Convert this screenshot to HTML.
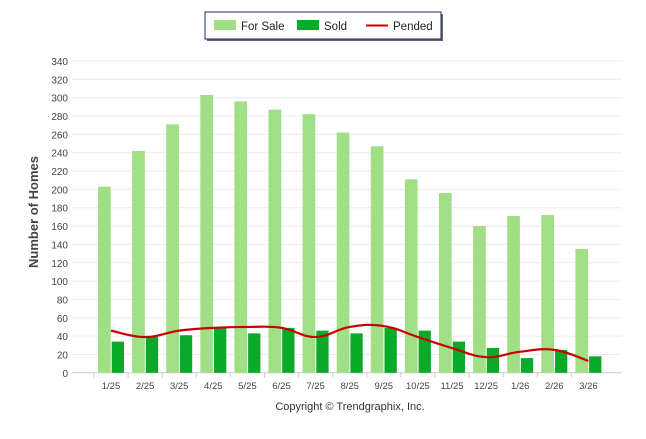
<!DOCTYPE html>
<html><head><meta charset="utf-8"><style>
body{margin:0;background:#fff;font-family:"Liberation Sans",sans-serif}
#wrap{position:relative;width:646px;height:434px}
</style></head><body>
<div id="wrap">
<svg id="svg" width="646" height="434" xmlns="http://www.w3.org/2000/svg"></svg>
</div>
<script>
const categories=["1/25","2/25","3/25","4/25","5/25","6/25","7/25","8/25","9/25","10/25","11/25","12/25","1/26","2/26","3/26"];
const forSale=[203,242,271,303,296,287,282,262,247,211,196,160,171,172,135];
const sold=[34,39,41,50,43,49,46,43,49,46,34,27,16,25,18];
const pended=[46,39,46,49,50,49,39,50,51,39,27,17,23,25,13];
const yTicks=[0,20,40,60,80,100,120,140,160,180,200,220,240,260,280,300,320,340];
const NS="http://www.w3.org/2000/svg";
const svg=document.getElementById('svg');
const y0=372.8, k=0.917, x0=72, step=34.1, xFirst=111;
const yS=v=>y0-v*k;
const xC=i=>xFirst+i*step;
function mk(t,a,p){const e=document.createElementNS(NS,t);for(const n in a)e.setAttribute(n,a[n]);(p||svg).appendChild(e);return e;}
yTicks.forEach(v=>{
 const g=mk('line',{x1:x0,x2:622,y1:yS(v),y2:yS(v),stroke:v===0?'#ccc':'#ebebeb','stroke-width':1});
 
 
 const t=mk('text',{x:68,y:yS(v)+4,'text-anchor':'end','font-size':10,fill:'#444'});
 t.textContent=v;
 
 
});
categories.forEach((c,i)=>{
 const a=mk('rect',{x:xC(i)-13,y:yS(forSale[i]),width:12.7,height:forSale[i]*k,fill:'#a0df86'});
 
 
 const b=mk('rect',{x:xC(i)+0.7,y:yS(sold[i]),width:12.3,height:sold[i]*k,fill:'#0aaa28'});
 
 
 const tk=mk('line',{x1:xC(i)-17,x2:xC(i)-17,y1:y0,y2:y0+5,stroke:'#ccc'});
 
 
 const t=mk('text',{x:xC(i),y:389,'text-anchor':'middle','font-size':9.5,fill:'#444'});
 t.textContent=c;
 
 
});
let pts=pended.map((v,i)=>[xC(i),yS(v)]);
let d='M'+pts[0][0]+','+pts[0][1];
for(let i=0;i<pts.length-1;i++){
 const p0=pts[Math.max(0,i-1)],p1=pts[i],p2=pts[i+1],p3=pts[Math.min(pts.length-1,i+2)];
 const t=0.2;
 d+=` C${p1[0]+(p2[0]-p0[0])*t},${p1[1]+(p2[1]-p0[1])*t} ${p2[0]-(p3[0]-p1[0])*t},${p2[1]-(p3[1]-p1[1])*t} ${p2[0]},${p2[1]}`;
}
const ln=mk('path',{d:d,fill:'none',stroke:'#c80000','stroke-width':2.2});


const yt=mk('text',{x:0,y:0,transform:'translate(38,212) rotate(-90)','text-anchor':'middle','font-size':13,'font-weight':'bold',fill:'#444'});
yt.textContent='Number of Homes';


const cp=mk('text',{x:350,y:410,'text-anchor':'middle','font-size':11,fill:'#333'});
cp.textContent='Copyright © Trendgraphix, Inc.';


const lg=mk('g',{});


mk('rect',{x:207,y:14,width:236,height:27,fill:'#666'},lg);
mk('rect',{x:205,y:12,width:236,height:27,fill:'#fff',stroke:'#1a2a6a','stroke-width':1},lg);
const items=[['For Sale','#a0df86',214,'r'],['Sold','#0aaa28',297,'r'],['Pended','#c80000',366,'l']];
items.forEach(it=>{
 const e=mk('g',{},lg);
 
 
 if(it[3]==='r') mk('rect',{x:it[2],y:20,width:22,height:10,fill:it[1]},e);
 else mk('line',{x1:it[2],x2:it[2]+22,y1:25.5,y2:25.5,stroke:it[1],'stroke-width':2},e);
 const t=mk('text',{x:it[2]+27,y:30,'font-size':11.5,fill:'#222'},e);
 t.textContent=it[0];
});
</script>
</body></html>
